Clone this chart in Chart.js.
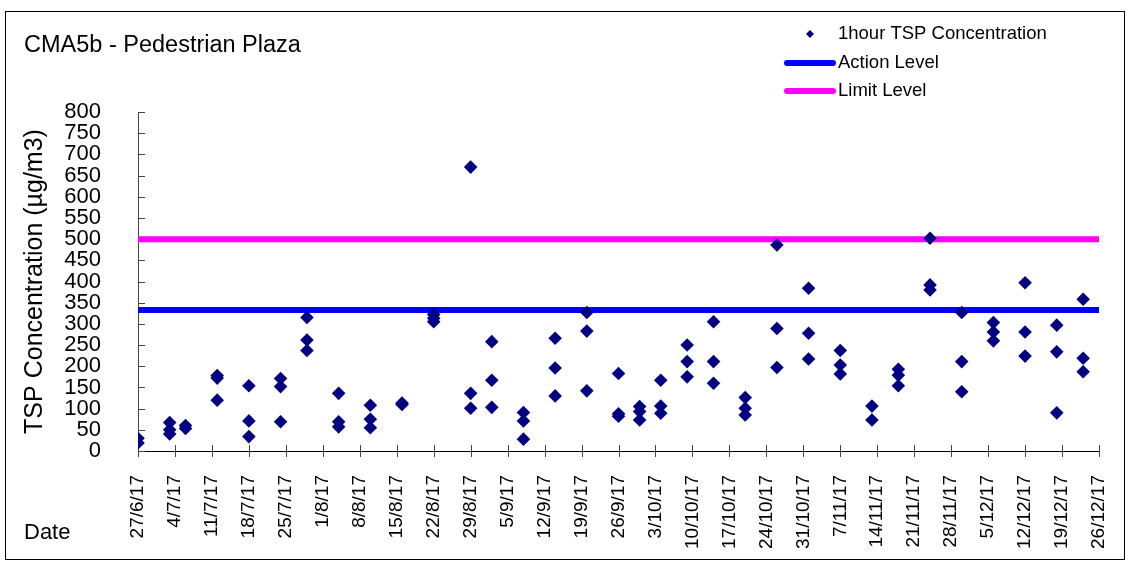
<!DOCTYPE html>
<html>
<head>
<meta charset="utf-8">
<script src="https://cdn.jsdelivr.net/npm/chart.js@4.4.1/dist/chart.umd.min.js"></script>
<style>
  html, body { margin: 0; padding: 0; background: #fff; }
</style>
</head>
<body>
<canvas id="tspChart" width="1128" height="561"></canvas>
<script>
const chartTitle = 'CMA5b - Pedestrian Plaza';
const firstDay = '2017-06-27';
const lastDay = '2017-12-26';

// one entry per sampling day, readings for that day
const sampleDates = [
  '2017-06-27', '2017-07-03', '2017-07-06', '2017-07-12', '2017-07-18', '2017-07-24',
  '2017-07-29', '2017-08-04', '2017-08-10', '2017-08-16', '2017-08-22', '2017-08-29',
  '2017-09-02', '2017-09-08', '2017-09-14', '2017-09-20', '2017-09-26', '2017-09-30',
  '2017-10-04', '2017-10-09', '2017-10-14', '2017-10-20', '2017-10-26', '2017-11-01',
  '2017-11-07', '2017-11-13', '2017-11-18', '2017-11-24', '2017-11-30', '2017-12-06',
  '2017-12-12', '2017-12-18', '2017-12-23'
];
const tspReadings = [
  [30, 19], [67, 50, 40], [60, 53], [178, 172, 120], [154, 71, 34], [171, 152, 69],
  [315, 262, 237], [136, 69, 57], [108, 75, 55], [113, 110], [322, 313, 305], [670, 136, 101],
  [258, 167, 103], [91, 71, 28], [266, 196, 130], [327, 283, 142], [183, 88, 82], [105, 93, 73],
  [167, 106, 89], [250, 211, 175], [305, 211, 160], [126, 101, 85], [486, 289, 197], [384, 278, 217],
  [237, 203, 182], [106, 73], [193, 179, 154], [502, 392, 380], [327, 211, 140], [303, 281, 260],
  [397, 281, 224], [297, 234, 90], [358, 219, 187]
];
const actionLevel = 333;
const limitLevel = 500;

const DAY = 86400000;
const t0 = Date.parse(firstDay);
const toDay = s => Math.round((Date.parse(s) - t0) / DAY);
const dayLabel = n => {
  const d = new Date(t0 + n * DAY);
  return d.getUTCDate() + '/' + (d.getUTCMonth() + 1) + '/' + String(d.getUTCFullYear()).slice(2);
};
const endN = toDay(lastDay);

const points = [];
sampleDates.forEach((s, i) => {
  tspReadings[i].forEach(v => points.push({ x: toDay(s), y: v }));
});

const FONT = "'Liberation Sans', Arial, sans-serif";

const decor = {
  id: 'decor',
  beforeDatasetsDraw(chart) {
    const { ctx, scales: { x, y } } = chart;
    ctx.save();
    ctx.strokeStyle = '#444';
    ctx.lineWidth = 1;
    y.ticks.forEach(t => {
      const py = Math.round(y.getPixelForValue(t.value)) + 0.5;
      ctx.beginPath(); ctx.moveTo(x.left, py); ctx.lineTo(x.left + 7, py); ctx.stroke();
    });
    x.ticks.forEach(t => {
      const px = Math.round(x.getPixelForValue(t.value)) + 0.5;
      ctx.beginPath(); ctx.moveTo(px, y.bottom - 6); ctx.lineTo(px, y.bottom + 6); ctx.stroke();
    });
    ctx.restore();
  },
  afterDraw(chart) {
    const ctx = chart.ctx;
    const ds = chart.data.datasets;
    ctx.save();
    // outer frame
    ctx.strokeStyle = '#000';
    ctx.lineWidth = 1;
    ctx.strokeRect(5.5, 11.5, 1119, 548);

    ctx.fillStyle = '#000';
    ctx.textBaseline = 'alphabetic';
    ctx.font = '23.5px ' + FONT;
    ctx.fillText(chartTitle, 24, 52);
    ctx.font = '22px ' + FONT;
    ctx.fillText('Date', 24, 539);

    // legend
    ctx.font = '18.5px ' + FONT;
    ctx.textBaseline = 'middle';
    ctx.fillStyle = ds[0].backgroundColor;
    ctx.beginPath();
    ctx.moveTo(810, 30); ctx.lineTo(814, 34); ctx.lineTo(810, 38); ctx.lineTo(806, 34);
    ctx.closePath(); ctx.fill();
    ctx.fillStyle = '#000';
    ctx.fillText(ds[0].label, 838, 34);
    ctx.lineCap = 'round';
    ctx.lineWidth = 6;
    [[ds[1], 63], [ds[2], 91]].forEach(([d, ly]) => {
      ctx.strokeStyle = d.borderColor;
      ctx.beginPath(); ctx.moveTo(787, ly); ctx.lineTo(833, ly); ctx.stroke();
      ctx.fillText(d.label, 838, ly);
    });
    ctx.restore();
  }
};

new Chart(document.getElementById('tspChart'), {
  type: 'scatter',
  data: {
    datasets: [
      {
        label: '1hour TSP Concentration',
        data: points,
        pointStyle: 'rectRot',
        pointRadius: 6.8,
        pointHoverRadius: 6.8,
        backgroundColor: '#000080',
        borderColor: '#000080',
        borderWidth: 0
      },
      {
        type: 'line',
        label: 'Action Level',
        data: [{ x: 0, y: actionLevel }, { x: endN, y: actionLevel }],
        borderColor: '#0000FF',
        borderWidth: 6,
        pointRadius: 0,
        showLine: true
      },
      {
        type: 'line',
        label: 'Limit Level',
        data: [{ x: 0, y: limitLevel }, { x: endN, y: limitLevel }],
        borderColor: '#FF00FF',
        borderWidth: 6,
        pointRadius: 0,
        showLine: true
      }
    ]
  },
  options: {
    responsive: false,
    animation: false,
    layout: { padding: { left: 10, top: 112, right: 29, bottom: 0 } },
    plugins: { legend: { display: false }, tooltip: { enabled: false } },
    scales: {
      x: {
        type: 'linear',
        min: 0,
        max: endN,
        grid: { display: false },
        border: { display: true, color: '#000', width: 1 },
        ticks: {
          stepSize: 7,
          autoSkip: false,
          maxRotation: 90,
          minRotation: 90,
          padding: 16,
          color: '#000',
          font: { family: FONT, size: 19 },
          callback: v => dayLabel(v)
        },
        afterFit: s => { s.height = 110; s.paddingLeft = 0; s.paddingRight = 0; }
      },
      y: {
        min: 0,
        max: 800,
        grid: { display: false },
        border: { display: true, color: '#444', width: 1 },
        ticks: {
          stepSize: 50,
          autoSkip: false,
          padding: 29,
          color: '#000',
          font: { family: FONT, size: 22 }
        },
        title: {
          display: true,
          text: 'TSP Concentration (µg/m3)',
          color: '#000',
          font: { family: FONT, size: 25 },
          padding: { top: 10, bottom: 0 }
        },
        afterFit: s => { s.width = 128; s.paddingTop = 0; s.paddingBottom = 0; }
      }
    }
  },
  plugins: [decor]
});
</script>
</body>
</html>
